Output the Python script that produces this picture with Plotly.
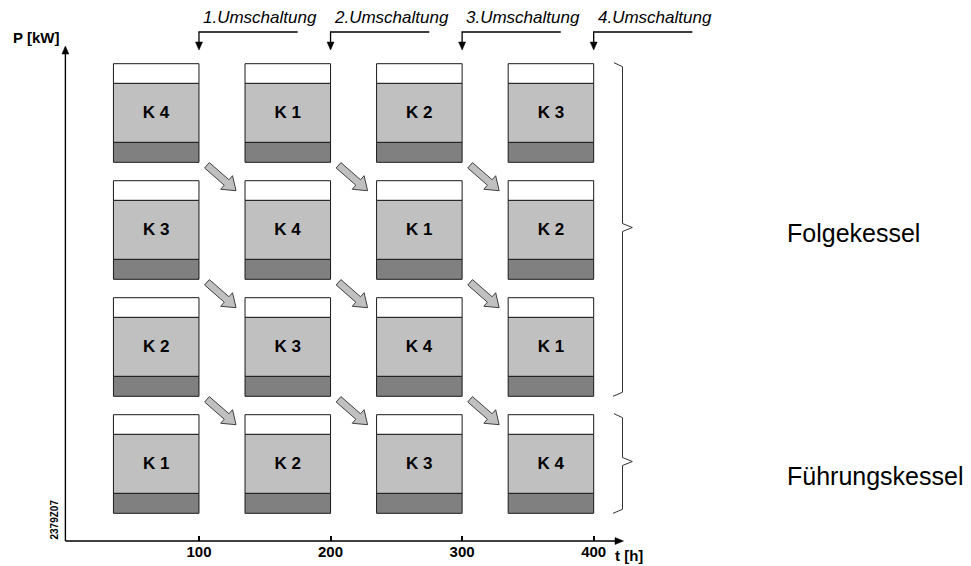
import plotly.graph_objects as go

# ---------------- data ----------------
switch_times = [100, 200, 300, 400]
switch_labels = ["1.Umschaltung", "2.Umschaltung", "3.Umschaltung", "4.Umschaltung"]
# boiler sequence in each interval, from lead boiler (bottom) to last follower (top)
sequence_interval_1 = ["K 1", "K 2", "K 3", "K 4"]
sequence_interval_2 = ["K 2", "K 3", "K 4", "K 1"]
sequence_interval_3 = ["K 3", "K 4", "K 1", "K 2"]
sequence_interval_4 = ["K 4", "K 1", "K 2", "K 3"]
tick_values = [100, 200, 300, 400]
tick_labels = ["100", "200", "300", "400"]
lead_label = "Führungskessel"
follow_label = "Folgekessel"
x_title = "t [h]"
y_title = "P [kW]"
drawing_no = "2379Z07"

sequences = [sequence_interval_1, sequence_interval_2, sequence_interval_3, sequence_interval_4]

# ---------------- layout constants ----------------
W, H = 971, 566
PX_X0 = 67.4          # pixel column of t = 0
PX_PER_H = 1.3157     # pixels per hour
PX_Y0 = 541           # pixel row of the time axis (y = 0)
FONT = "Liberation Sans, Arial, sans-serif"

BOX_W = 65            # box width in hours (box ends at switching time)
LEAD_BOTTOM = 27.7    # y of bottom of lowest box
ROW_PITCH = 117
SEG_DARK, SEG_LIGHT, SEG_WHITE = 20, 59, 19.6
BOX_H = SEG_DARK + SEG_LIGHT + SEG_WHITE


def dx(px):      # pixel column -> data x
    return (px - PX_X0) / PX_PER_H


def dy(py):      # pixel row -> data y
    return PX_Y0 - py


def px_x(x):
    return PX_X0 + x * PX_PER_H


def px_y(y):
    return PX_Y0 - y


def path_from_px(points, close=True):
    s = "M " + " L ".join(f"{dx(p[0]):.3f},{dy(p[1]):.3f}" for p in points)
    return s + (" Z" if close else "")


fig = go.Figure()

# ---------------- boxes as stacked bars ----------------
xs, b_dark, b_light, b_white, labels = [], [], [], [], []
for t, seq in zip(switch_times, sequences):
    for r, lab in enumerate(seq):
        base = LEAD_BOTTOM + r * ROW_PITCH
        xs.append(t - BOX_W / 2)
        b_dark.append(base)
        b_light.append(base + SEG_DARK)
        b_white.append(base + SEG_DARK + SEG_LIGHT)
        labels.append(lab)

line_style = dict(color="#1a1a1a", width=1)
fig.add_trace(go.Bar(x=xs, y=[SEG_DARK] * len(xs), base=b_dark, width=BOX_W,
                     marker=dict(color="#808080", line=line_style),
                     hoverinfo="skip", showlegend=False))
fig.add_trace(go.Bar(x=xs, y=[SEG_LIGHT] * len(xs), base=b_light, width=BOX_W,
                     marker=dict(color="#c0c0c0", line=line_style),
                     text=[f"<b>{l}</b>" for l in labels], textposition="inside",
                     insidetextanchor="middle", textangle=0, constraintext="none",
                     insidetextfont=dict(family=FONT, size=17, color="#000000"),
                     hoverinfo="skip", showlegend=False))
fig.add_trace(go.Bar(x=xs, y=[SEG_WHITE] * len(xs), base=b_white, width=BOX_W,
                     marker=dict(color="#ffffff", line=line_style),
                     hoverinfo="skip", showlegend=False))

shapes = []
annotations = []

# ---------------- block arrows between intervals ----------------
for ci in range(len(switch_times) - 1):
    right_px = px_x(switch_times[ci])
    next_left_px = px_x(switch_times[ci + 1] - BOX_W)
    for r in range(len(sequences[ci]) - 1, 0, -1):
        tail = (right_px + 8, px_y(LEAD_BOTTOM + r * ROW_PITCH) + 3)
        tip = (next_left_px - 9, px_y(LEAD_BOTTOM + (r - 1) * ROW_PITCH + BOX_H) + 10)
        vx, vy = tip[0] - tail[0], tip[1] - tail[1]
        L = (vx ** 2 + vy ** 2) ** 0.5
        ux, uy = vx / L, vy / L
        nx, ny = -uy, ux
        hw, hh, hl = 3.6, 9, 12.5
        neck = (tip[0] - ux * hl, tip[1] - uy * hl)
        pts = [
            (tail[0] + nx * hw, tail[1] + ny * hw),
            (neck[0] + nx * hw, neck[1] + ny * hw),
            (neck[0] + nx * hh, neck[1] + ny * hh),
            tip,
            (neck[0] - nx * hh, neck[1] - ny * hh),
            (neck[0] - nx * hw, neck[1] - ny * hw),
            (tail[0] - nx * hw, tail[1] - ny * hw),
        ]
        shapes.append(dict(type="path", xref="x", yref="y", path=path_from_px(pts),
                           fillcolor="#c0c0c0", line=dict(color="#404040", width=1)))

# ---------------- switching callouts ----------------
for t, lab in zip(switch_times, switch_labels):
    x0 = px_x(t)
    shapes.append(dict(type="path", xref="x", yref="y",
                       path=path_from_px([(x0 + 98.7, 32), (x0, 32), (x0, 43)], close=False),
                       line=dict(color="#000000", width=1.3)))
    shapes.append(dict(type="path", xref="x", yref="y",
                       path=path_from_px([(x0 - 3.5, 42), (x0 + 3.5, 42), (x0, 50)]),
                       fillcolor="#000000", line=dict(color="#000000", width=0.5)))
    annotations.append(dict(x=dx(x0 + 61), y=dy(17.5), xref="x", yref="y",
                            text=f"<i>{lab}</i>", showarrow=False,
                            font=dict(family=FONT, size=17, color="#000000"),
                            xanchor="center", yanchor="middle"))

# ---------------- axes (arrows) ----------------
ax_x = 65.4
shapes.append(dict(type="line", xref="x", yref="y", x0=dx(ax_x), x1=dx(ax_x),
                   y0=dy(PX_Y0), y1=dy(53), line=dict(color="#000000", width=1.4)))
shapes.append(dict(type="path", xref="x", yref="y",
                   path=path_from_px([(ax_x - 3.5, 54), (ax_x + 3.5, 54), (ax_x, 46)]),
                   fillcolor="#000000", line=dict(color="#000000", width=0.5)))
shapes.append(dict(type="line", xref="x", yref="y", x0=dx(ax_x), x1=dx(616),
                   y0=0, y1=0, line=dict(color="#000000", width=1.4)))
shapes.append(dict(type="path", xref="x", yref="y",
                   path=path_from_px([(615, PX_Y0 - 3.5), (615, PX_Y0 + 3.5), (623.5, PX_Y0)]),
                   fillcolor="#000000", line=dict(color="#000000", width=0.5)))

# ---------------- braces ----------------
brace_x, brace_tip = 622.5, 632.3


def brace(top_px, bot_px):
    mid = (top_px + bot_px) / 2 - 2
    pts = [(614, top_px - 1), (brace_x, top_px + 3), (brace_x, mid - 4), (brace_tip, mid),
           (brace_x, mid + 4), (brace_x, bot_px - 3), (613, bot_px + 1)]
    return dict(type="path", xref="x", yref="y", path=path_from_px(pts, close=False),
                line=dict(color="#333333", width=1))


n_rows = len(sequence_interval_1)
top_follow = px_y(LEAD_BOTTOM + (n_rows - 1) * ROW_PITCH + BOX_H)
bot_follow = px_y(LEAD_BOTTOM + 1 * ROW_PITCH) - 1
shapes.append(brace(top_follow, bot_follow))
top_lead = px_y(LEAD_BOTTOM + BOX_H)
bot_lead = px_y(LEAD_BOTTOM) - 1
shapes.append(brace(top_lead, bot_lead))

annotations.append(dict(x=dx(785), y=(dy(top_follow) + dy(bot_follow)) / 2 - 3, xref="x", yref="y",
                        text=follow_label, showarrow=False, xanchor="left", yanchor="middle",
                        font=dict(family=FONT, size=25, color="#000000")))
annotations.append(dict(x=dx(785), y=(dy(top_lead) + dy(bot_lead)) / 2 - 12, xref="x", yref="y",
                        text=lead_label, showarrow=False, xanchor="left", yanchor="middle",
                        font=dict(family=FONT, size=25, color="#000000")))

# axis titles and drawing number
annotations.append(dict(x=dx(629), y=dy(555), xref="x", yref="y", text=f"<b>{x_title}</b>",
                        showarrow=False, font=dict(family=FONT, size=15, color="#000000")))
annotations.append(dict(x=dx(36), y=dy(37.5), xref="x", yref="y", text=f"<b>{y_title}</b>",
                        showarrow=False, font=dict(family=FONT, size=15, color="#000000")))
annotations.append(dict(x=dx(53.5), y=dy(520), xref="x", yref="y", text=f"<b>{drawing_no}</b>",
                        showarrow=False, textangle=-90,
                        font=dict(family=FONT, size=10, color="#000000")))

fig.update_layout(
    width=W, height=H, autosize=False,
    margin=dict(l=0, r=0, t=0, b=0),
    paper_bgcolor="#ffffff", plot_bgcolor="#ffffff",
    barmode="overlay", showlegend=False,
    xaxis=dict(range=[dx(0), dx(W)], anchor="free", position=(H - PX_Y0) / H,
               showgrid=False, zeroline=False, showline=False,
               tickmode="array", tickvals=tick_values, ticktext=[f"<b>{t}</b>" for t in tick_labels],
               ticks="inside", ticklen=5, tickwidth=1.5, tickcolor="#000000",
               tickfont=dict(family=FONT, size=15, color="#000000"), fixedrange=True),
    yaxis=dict(range=[dy(H), dy(0)], visible=False, fixedrange=True),
    shapes=shapes, annotations=annotations,
)

fig.write_html("out.html", config={"displayModeBar": False},
               post_script="document.body.style.margin='0';document.body.style.overflow='hidden';")
